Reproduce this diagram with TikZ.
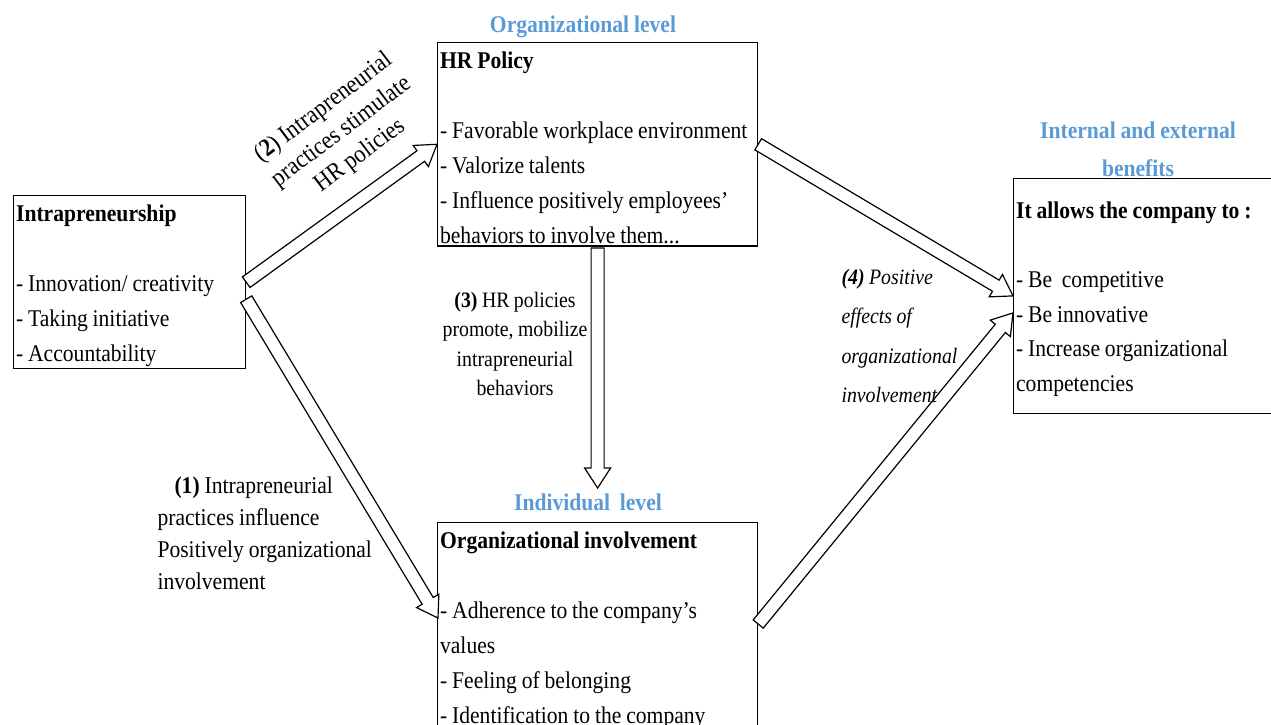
\documentclass[tikz,border=0pt]{standalone}
\usepackage{fontspec}
\setmainfont{Liberation Serif}[FakeStretch=0.9,WordSpace=0.9]
\usetikzlibrary{positioning,calc}
\definecolor{lvlblue}{RGB}{91,155,213}
\tikzset{
  box/.style={draw,line width=1.2pt,anchor=north west,align=flush left,inner xsep=2.5pt,inner ysep=2.5pt,font=\fontsize{24}{35}\selectfont},
  lvl/.style={text=lvlblue,font=\fontsize{24}{38}\selectfont\bfseries,align=center},
  lab/.style={font=\fontsize{24}{32}\selectfont},
  harrow/.style={draw,fill=white,line width=1.2pt,line join=miter},
  every picture/.style={x=1pt,y=-1pt}
}
\newcommand\firstline{\rule{0pt}{23pt}}
\newcommand\hollowarrow[2]{%
  \coordinate (ht) at (#2);
  \coordinate (hh) at ($(#2)!20pt!(#1)$);
  \draw[harrow] ($(#1)!6.5pt!90:(#2)$) -- ($(hh)!6.5pt!90:(ht)$) -- ($(hh)!13pt!90:(ht)$) -- (ht)
    -- ($(hh)!13pt!-90:(ht)$) -- ($(hh)!6.5pt!-90:(ht)$) -- ($(#1)!6.5pt!-90:(#2)$) -- cycle;}

\begin{document}
\begin{tikzpicture}
  \useasboundingbox (0,0) rectangle (1271,724);
  % boxes
  \node[box,text width=227pt] (intra) at (13,195) {\firstline\textbf{Intrapreneurship}\\[35pt]- Innovation/ creativity\\- Taking initiative\\- Accountability};
  \node[box,text width=315pt] (hr) at (437,42) {\firstline\textbf{HR Policy}\\[35pt]- Favorable workplace environment\\- Valorize talents\\- Influence positively employees'\\behaviors to involve them...};
  \node[box,text width=315pt] (inv) at (437,522) {\firstline\textbf{Organizational involvement}\\[35pt]- Adherence to the company's\\values\\- Feeling of belonging\\- Identification to the company\\[20pt]\mbox{}};
  \node[box,text width=290pt,inner ysep=17pt,font=\fontsize{24}{34.5}\selectfont] (ben) at (1013,178) {\firstline\textbf{It allows the company to :}\\[34.5pt]- Be\ \ competitive\\- Be innovative\\- Increase organizational\\competencies};
  % level titles
  \node[lvl,anchor=base] (orglvl) at (583,32) {Organizational level};
  \node[lvl,anchor=base] (indlvl) at (588,510) {Individual\ \ level};
  \node[lvl] (benlvl) at (1138,149) {Internal and external\\benefits};
  % arrows
  \coordinate (a1s) at ($(intra.east)+(0,17)$);
  \coordinate (a1e) at ($(inv.north west)+(1,96)$);
  \coordinate (a3s) at ($(hr.south)+(0,1.5)$);
  \coordinate (a3e) at ($(inv.north)+(0,-34)$);
  \coordinate (a4s) at ($(inv.north east)+(0,102)$);
  \coordinate (a4e) at ($(ben.west)+(0,17)$);
  \hollowarrow{intra.east}{hr.west}
  \hollowarrow{a1s}{a1e}
  \hollowarrow{a3s}{a3e}
  \hollowarrow{hr.east}{ben.west}
  \hollowarrow{a4s}{a4e}
  % arrow labels
  \node[lab,rotate=37,align=center,font=\fontsize{25}{30}\selectfont] (lab2) at (342,132) {(\textbf{2}) Intrapreneurial\\practices stimulate\\HR policies};
  \node[lab,align=left,anchor=west] (lab1) at (154,533) {\hspace*{17pt}\textbf{(1)} Intrapreneurial\\practices influence\\Positively organizational\\involvement};
  \node[lab,align=center,font=\fontsize{22}{29.5}\selectfont] (lab3) at (515,344) {\textbf{(3)} HR policies\\promote, mobilize\\intrapreneurial\\behaviors};
  \node[lab,align=left,anchor=west,font=\fontsize{22}{39.5}\selectfont\itshape] (lab4) at (838,336) {\textbf{(4)} Positive\\effects of\\organizational\\involvement};
\end{tikzpicture}
\end{document}
